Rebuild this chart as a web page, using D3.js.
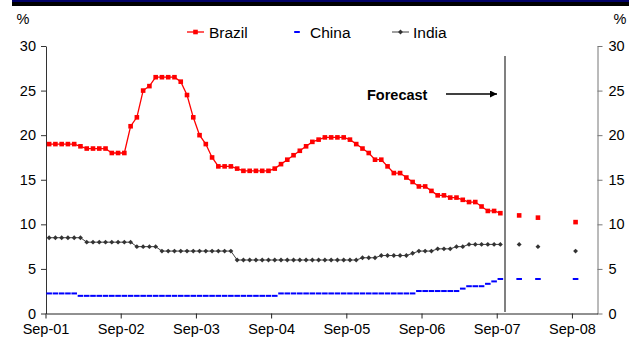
<!DOCTYPE html>
<html>
<head>
<meta charset="utf-8">
<script src="https://cdn.jsdelivr.net/npm/d3@7"></script>
<style>
  html, body { margin: 0; padding: 0; background: #fff; }
  svg { display: block; font-family: "Liberation Sans", Arial, sans-serif; }
</style>
</head>
<body>
<svg id="chart" width="636" height="342"></svg>
<script>
// Policy interest rates, % — monthly, Sep-01 to Sep-07, plus forecasts
const brazil = [19,19,19,19,19,18.75,18.5,18.5,18.5,18.5,18,18,18,21,22,25,25.5,26.5,26.5,26.5,26.5,26,24.5,22,20,19,17.5,16.5,16.5,16.5,16.25,16,16,16,16,16,16.25,16.75,17.25,17.75,18.25,18.75,19.25,19.5,19.75,19.75,19.75,19.75,19.5,19,18.5,18,17.25,17.25,16.5,15.75,15.75,15.25,14.75,14.25,14.25,13.75,13.25,13.25,13,13,12.75,12.5,12.5,12,11.5,11.5,11.25];
const china = [2.25,2.25,2.25,2.25,2.25,
  1.98,1.98,1.98,1.98,1.98,1.98,1.98,1.98,1.98,1.98,1.98,1.98,1.98,1.98,1.98,1.98,1.98,1.98,1.98,1.98,1.98,1.98,1.98,1.98,1.98,1.98,1.98,1.98,1.98,1.98,1.98,1.98,
  2.25,2.25,2.25,2.25,2.25,2.25,2.25,2.25,2.25,2.25,2.25,2.25,2.25,2.25,2.25,2.25,2.25,2.25,2.25,2.25,2.25,2.25,
  2.52,2.52,2.52,2.52,2.52,2.52,2.52,2.79,3.06,3.06,3.06,3.33,3.60,3.87];
const india = [8.5,8.5,8.5,8.5,8.5,8.5,
  8,8,8,8,8,8,8,8,
  7.5,7.5,7.5,7.5,
  7,7,7,7,7,7,7,7,7,7,7,7,
  6,6,6,6,6,6,6,6,6,6,6,6,6,6,6,6,6,6,6,6,
  6.25,6.25,6.25,6.5,6.5,6.5,6.5,6.5,6.75,7,7,7,7.25,7.25,7.25,7.5,7.5,7.75,7.75,7.75,7.75,7.75,7.75];

const forecastMonths = ["Dec-07", "Mar-08", "Sep-08"];
const brazilForecast = [11, 10.75, 10.25];
const chinaForecast = [3.87, 3.87, 3.87];
const indiaForecast = [7.75, 7.5, 7];

const tickLabels = ["Sep-01","Sep-02","Sep-03","Sep-04","Sep-05","Sep-06","Sep-07","Sep-08"];
const yTicks = [0, 5, 10, 15, 20, 25, 30];

// Monthly categories Sep-01 .. Dec-08
const monthNames = ["Jan","Feb","Mar","Apr","May","Jun","Jul","Aug","Sep","Oct","Nov","Dec"];
const months = [];
for (let yr = 2001, m = 8; yr < 2009; ) {
  months.push(monthNames[m] + "-" + String(yr).slice(2));
  m++; if (m === 12) { m = 0; yr++; }
}

const svg = d3.select("#chart");
const plotLeft = 46, plotRight = 597.5, plotTop = 46, plotBottom = 313.5;

const x = d3.scaleBand().domain(months).range([plotLeft, plotRight]).paddingInner(0).paddingOuter(0);
const cx = m => x(m) + x.bandwidth() / 2;
const y = d3.scaleLinear().domain([0, 30]).range([plotBottom, plotTop]);

// Header band
svg.append("rect").attr("x", 12).attr("y", 0).attr("width", 617).attr("height", 6).attr("fill", "#000");
svg.append("rect").attr("x", 12).attr("y", 0).attr("width", 617).attr("height", 2).attr("fill", "#000066");

// Axes
const axisFont = g => g.selectAll("text").attr("font-size", 14.5).attr("fill", "#000")
  .attr("font-family", "'Liberation Sans', Arial, sans-serif");

const yLeft = d3.axisLeft(y).tickValues(yTicks).tickSize(5).tickPadding(5).tickSizeOuter(0);
svg.append("g").attr("transform", `translate(${plotLeft},0)`).call(yLeft)
  .call(g => g.select(".domain").attr("stroke", "#333"))
  .call(g => g.selectAll(".tick line").attr("stroke", "#333"))
  .call(axisFont);

const yRight = d3.axisRight(y).tickValues(yTicks).tickSize(5).tickPadding(6).tickSizeOuter(0);
svg.append("g").attr("transform", `translate(${plotRight},0)`).call(yRight)
  .call(g => g.select(".domain").attr("stroke", "#777"))
  .call(g => g.selectAll(".tick line").attr("stroke", "#777"))
  .call(axisFont);

const xAxis = d3.axisBottom(x).tickValues(tickLabels).tickSize(5).tickPadding(5).tickSizeOuter(0);
const gx = svg.append("g").attr("transform", `translate(0,${plotBottom})`).call(xAxis)
  .call(g => g.select(".domain").attr("stroke", "#222"))
  .call(axisFont);
// ticks sit on the category boundaries
gx.selectAll(".tick").attr("transform", d => `translate(${x(d)},0)`);
gx.selectAll(".tick line").attr("stroke", "#222");

// "%" unit labels
svg.append("text").attr("x", 23).attr("y", 24).attr("text-anchor", "middle")
  .attr("font-size", 14.5).text("%");
svg.append("text").attr("x", 620).attr("y", 24).attr("text-anchor", "middle")
  .attr("font-size", 14.5).text("%");

// Forecast divider and annotation
const divX = (cx("Sep-07") + cx("Oct-07")) / 2 + 1.5;
svg.append("line").attr("x1", divX).attr("x2", divX).attr("y1", 56).attr("y2", 312)
  .attr("stroke", "#808080").attr("stroke-width", 2);
svg.append("text").attr("x", 367).attr("y", 99.5).attr("font-size", 14.5)
  .attr("font-weight", "bold").text("Forecast");
svg.append("defs").append("marker").attr("id", "arrow").attr("viewBox", "0 0 10 10")
  .attr("refX", 10).attr("refY", 5).attr("markerWidth", 7).attr("markerHeight", 7)
  .attr("markerUnits", "userSpaceOnUse").attr("orient", "auto")
  .append("path").attr("d", "M0,0L10,5L0,10Z").attr("fill", "#000");
svg.append("line").attr("x1", 446).attr("x2", 497).attr("y1", 94).attr("y2", 94)
  .attr("stroke", "#000").attr("stroke-width", 1.6).attr("marker-end", "url(#arrow)");

// Series
const hist = arr => arr.map((v, i) => ({ m: months[i], v }));
const fc = arr => arr.map((v, i) => ({ m: forecastMonths[i], v }));
const line = d3.line().x(d => cx(d.m)).y(d => y(d.v));

// India: small diamonds (square rotated 45°)
svg.append("path").datum(hist(india)).attr("d", line)
  .attr("fill", "none").attr("stroke", "#404040").attr("stroke-width", 1);
const diamond = d3.symbol().type(d3.symbolSquare).size(12);
svg.append("g").selectAll("path").data(hist(india).concat(fc(indiaForecast))).join("path")
  .attr("d", diamond).attr("transform", d => `translate(${cx(d.m)},${y(d.v)}) rotate(45)`)
  .attr("fill", "#333");

// China (dash markers only)
svg.append("g").selectAll("rect").data(hist(china).concat(fc(chinaForecast))).join("rect")
  .attr("x", d => cx(d.m) - 2.8).attr("y", d => y(d.v) - 1).attr("width", 5.6).attr("height", 2)
  .attr("fill", "#0000ff");

// Brazil
svg.append("path").datum(hist(brazil)).attr("d", line)
  .attr("fill", "none").attr("stroke", "#ff0000").attr("stroke-width", 1.3);
svg.append("g").selectAll("rect").data(hist(brazil).concat(fc(brazilForecast))).join("rect")
  .attr("x", d => cx(d.m) - 2.3).attr("y", d => y(d.v) - 2.3).attr("width", 4.6).attr("height", 4.6)
  .attr("fill", "#ff0000");

// Legend
const lg = svg.append("g").attr("font-size", 15.5);
lg.append("line").attr("x1", 187).attr("x2", 204).attr("y1", 32).attr("y2", 32).attr("stroke", "#ff0000").attr("stroke-width", 1.3);
lg.append("rect").attr("x", 193.2).attr("y", 29.7).attr("width", 4.6).attr("height", 4.6).attr("fill", "#ff0000");
lg.append("text").attr("x", 209).attr("y", 37.5).text("Brazil");
lg.append("rect").attr("x", 294.2).attr("y", 31).attr("width", 5.6).attr("height", 2).attr("fill", "#0000ff");
lg.append("text").attr("x", 310).attr("y", 37.5).text("China");
lg.append("line").attr("x1", 392).attr("x2", 409).attr("y1", 32).attr("y2", 32).attr("stroke", "#404040").attr("stroke-width", 1);
lg.append("path").attr("d", diamond).attr("transform", "translate(400.5,32) rotate(45)").attr("fill", "#333");
lg.append("text").attr("x", 413).attr("y", 37.5).text("India");
</script>
</body>
</html>
